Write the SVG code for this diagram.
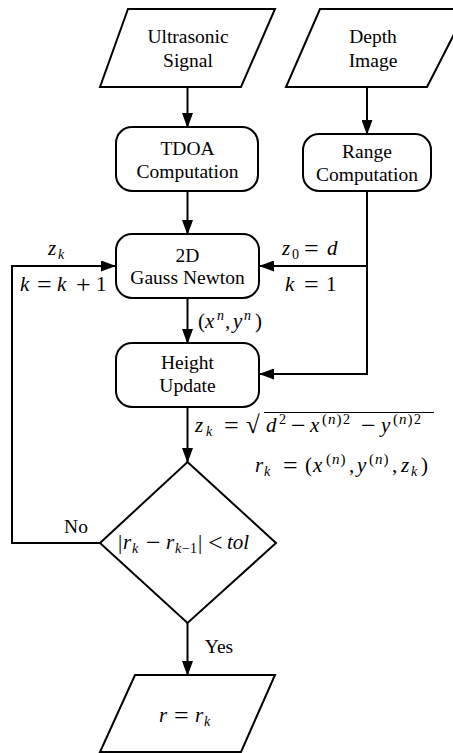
<svg xmlns="http://www.w3.org/2000/svg" width="453" height="753" viewBox="0 0 453 753" font-family="Liberation Serif, Times New Roman, Times, serif">
<style>
.s{fill:#fff;stroke:#000;stroke-width:2;stroke-linejoin:miter}
.c{fill:none;stroke:#000;stroke-width:2}
.t{font-size:19.5px;fill:#000;text-anchor:middle}
.m{font-size:21px;fill:#000}
.i{font-style:italic}
.o{font-size:26px}
.sb{font-size:14px;font-style:italic}
.sp{font-size:14px}
.n{font-size:15px;letter-spacing:1px}
</style>
<defs>
<marker id="ah" markerUnits="userSpaceOnUse" markerWidth="15" markerHeight="11" refX="14" refY="5.5" orient="auto">
<path d="M0,0 L15,5.5 L0,11 Z" fill="#000"/>
</marker>
</defs>
<rect width="453" height="753" fill="#fff"/>
<g id="connectors">
<line class="c" x1="187.5" y1="87" x2="187.5" y2="127" marker-end="url(#ah)"/>
<line class="c" x1="367" y1="87" x2="367" y2="134" marker-end="url(#ah)"/>
<line class="c" x1="187.5" y1="191" x2="187.5" y2="234" marker-end="url(#ah)"/>
<polyline class="c" points="367,191 367,374 260,374" marker-end="url(#ah)"/>
<line class="c" x1="367" y1="266" x2="260" y2="266" marker-end="url(#ah)"/>
<line class="c" x1="187.5" y1="298" x2="187.5" y2="343" marker-end="url(#ah)"/>
<line class="c" x1="187.5" y1="407" x2="187.5" y2="462" marker-end="url(#ah)"/>
<polyline class="c" points="100,543 12,543 12,266 115,266" marker-end="url(#ah)"/>
<line class="c" x1="187.5" y1="623" x2="187.5" y2="675" marker-end="url(#ah)"/>
</g>
<g id="ultrasonic">
<polygon class="s" points="128,9 275,9 241,87 100,87"/>
<text class="t" x="188" y="43">Ultrasonic</text>
<text class="t" x="188" y="67">Signal</text>
</g>
<g id="depth">
<polygon class="s" points="320,9 467,9 427,87 286,87"/>
<text class="t" x="373" y="43">Depth</text>
<text class="t" x="373" y="67">Image</text>
</g>
<g id="tdoa">
<rect class="s" x="116" y="127" width="142" height="64" rx="16"/>
<text class="t" x="187.5" y="155">TDOA</text>
<text class="t" x="187.5" y="178">Computation</text>
</g>
<g id="range">
<rect class="s" x="303" y="134" width="128" height="57" rx="16"/>
<text class="t" x="367" y="158">Range</text>
<text class="t" x="367" y="181">Computation</text>
</g>
<g id="gauss">
<rect class="s" x="116" y="234" width="143" height="64" rx="16"/>
<text class="t" x="187.5" y="262">2D</text>
<text class="t" x="187.5" y="284">Gauss Newton</text>
</g>
<g id="height">
<rect class="s" x="116" y="343" width="143" height="64" rx="16"/>
<text class="t" x="187.5" y="369">Height</text>
<text class="t" x="187.5" y="392">Update</text>
</g>
<g id="decision">
<polygon class="s" points="187.5,462 276,543 187.5,623 100,543"/>
<text class="m"><tspan x="118" y="549">|</tspan><tspan class="i" x="123" y="549">r</tspan><tspan class="sb" x="132" y="553">k</tspan><tspan class="o" x="146" y="551">−</tspan><tspan class="i" x="166" y="549">r</tspan><tspan class="sb" x="175" y="553">k</tspan><tspan class="sp" x="182" y="553">−1</tspan><tspan x="198" y="549">|</tspan><tspan class="o" x="208" y="551">&lt;</tspan><tspan class="i" x="227" y="549">tol</tspan></text>
</g>
<g id="result">
<polygon class="s" points="135,675 275,675 241,752 100,752"/>
<text class="m"><tspan class="i" x="159" y="722">r</tspan><tspan class="o" x="174" y="724">=</tspan><tspan class="i" x="195" y="722">r</tspan><tspan class="sb" x="204" y="726">k</tspan></text>
</g>
<g id="labels">
<text class="m"><tspan class="i" x="48" y="255">z</tspan><tspan class="sb" x="58" y="259">k</tspan></text>
<text class="m"><tspan class="i" x="20" y="291">k</tspan><tspan class="o" x="37" y="293">=</tspan><tspan class="i" x="57" y="291">k</tspan><tspan class="o" x="76" y="293">+</tspan><tspan x="96" y="291">1</tspan></text>
<text class="m"><tspan class="i" x="282" y="255">z</tspan><tspan class="sp" x="292" y="259">0</tspan><tspan class="o" x="304" y="257">=</tspan><tspan class="i" x="327" y="255">d</tspan></text>
<text class="m"><tspan class="i" x="285" y="291">k</tspan><tspan class="o" x="304" y="293">=</tspan><tspan x="326" y="291">1</tspan></text>
<text class="m"><tspan x="198" y="328">(</tspan><tspan class="i" x="205" y="328">x</tspan><tspan class="sb" x="217" y="320">n</tspan><tspan x="225" y="328">,</tspan><tspan class="i" x="233" y="328">y</tspan><tspan class="sb" x="244" y="320">n</tspan><tspan x="255" y="328">)</tspan></text>
<text class="m"><tspan class="i" x="195" y="432">z</tspan><tspan class="sb" x="206" y="436">k</tspan><tspan class="o" x="224" y="434">=</tspan><tspan x="246" y="433" font-size="25">√</tspan><tspan class="i" x="266" y="432">d</tspan><tspan class="sp" x="279" y="424">2</tspan><tspan class="o" x="291" y="434">−</tspan><tspan class="i" x="310" y="432">x</tspan><tspan class="n" x="322" y="424">(<tspan class="i">n</tspan>)</tspan><tspan class="sp" x="343" y="424">2</tspan><tspan class="o" x="361" y="434">−</tspan><tspan class="i" x="381" y="432">y</tspan><tspan class="n" x="393" y="424">(<tspan class="i">n</tspan>)</tspan><tspan class="sp" x="414" y="424">2</tspan></text>
<line x1="264" y1="412.5" x2="434" y2="412.5" stroke="#000" stroke-width="1.2"/>
<text class="m"><tspan class="i" x="255" y="472">r</tspan><tspan class="sb" x="264" y="476">k</tspan><tspan class="o" x="283" y="474">=</tspan><tspan x="305" y="472">(</tspan><tspan class="i" x="313" y="472">x</tspan><tspan class="n" x="326" y="464">(<tspan class="i">n</tspan>)</tspan><tspan x="349" y="472">,</tspan><tspan class="i" x="357" y="472">y</tspan><tspan class="n" x="369" y="464">(<tspan class="i">n</tspan>)</tspan><tspan x="392" y="472">,</tspan><tspan class="i" x="401" y="472">z</tspan><tspan class="sb" x="411" y="476">k</tspan><tspan x="421" y="472">)</tspan></text>
<text class="t" x="76" y="533">No</text>
<text class="t" x="219" y="653">Yes</text>
</g>
</svg>
